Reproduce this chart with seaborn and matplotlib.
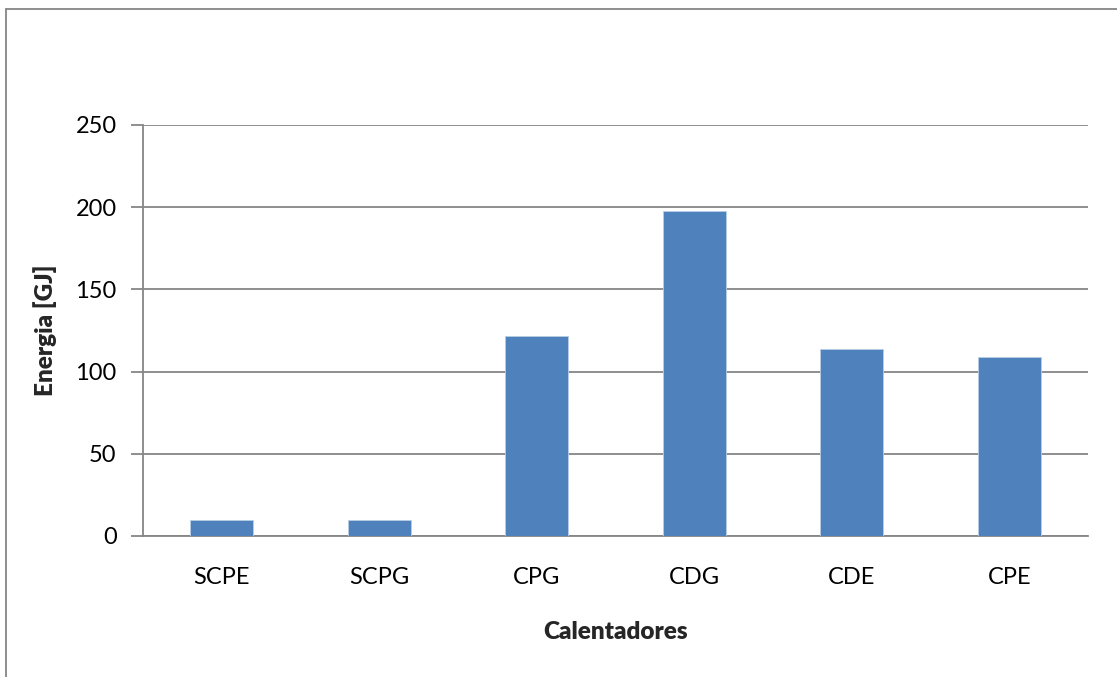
import numpy as np
import pandas as pd
import matplotlib
matplotlib.use('Agg')
import matplotlib.pyplot as plt
import seaborn as sns
from matplotlib.lines import Line2D

# data
calentadores = ['SCPE', 'SCPG', 'CPG', 'CDG', 'CDE', 'CPE']
energia = [9.5, 9.8, 121.8, 197.8, 113.8, 109.0]
yticks = [0, 50, 100, 150, 200, 250]

df = pd.DataFrame({'Calentadores': calentadores, 'Energia': energia})

sns.set_theme(style='white')
plt.rcParams['font.family'] = ['Lato', 'DejaVu Sans']

W, H = 1117, 677
fig = plt.figure(figsize=(W / 100, H / 100), dpi=100)
ax = fig.add_axes([143 / W, 1 - 536 / H, (1088 - 143) / W, (536 - 125) / H])

sns.barplot(data=df, x='Calentadores', y='Energia', color='#4F81BD',
            saturation=1, width=0.4, ax=ax, zorder=3, edgecolor='#B9CDE5', linewidth=0.6)

ax.set_ylim(0, 250)
ax.set_xlim(-0.5, len(calentadores) - 0.5)
ax.set_yticks(yticks)
ax.yaxis.grid(True, color='#868686', linewidth=1.3, zorder=0)
ax.set_axisbelow(True)

for s in ['top', 'right']:
    ax.spines[s].set_visible(False)
for s in ['left', 'bottom']:
    ax.spines[s].set_color('#868686')
    ax.spines[s].set_linewidth(1.3)

ax.tick_params(axis='y', which='major', length=9, width=1.3, color='#868686',
               direction='out', left=True, labelsize=17, pad=10, labelcolor='black')
ax.tick_params(axis='x', length=0, labelsize=17, pad=22, labelcolor='black')

ax.set_xlabel('Calentadores', fontsize=17.5, fontweight='heavy', labelpad=24)
ax.set_ylabel('Energia [GJ]', fontsize=17.5, fontweight='heavy', labelpad=13)

# outer chart frame (left and top edges visible)
fig.add_artist(Line2D([6 / W, 6 / W], [0, 1 - 9 / H], transform=fig.transFigure,
                      color='#868686', linewidth=1.3))
fig.add_artist(Line2D([6 / W, 1], [1 - 9 / H, 1 - 9 / H], transform=fig.transFigure,
                      color='#868686', linewidth=1.3))

fig.savefig('out.png', dpi=100)
